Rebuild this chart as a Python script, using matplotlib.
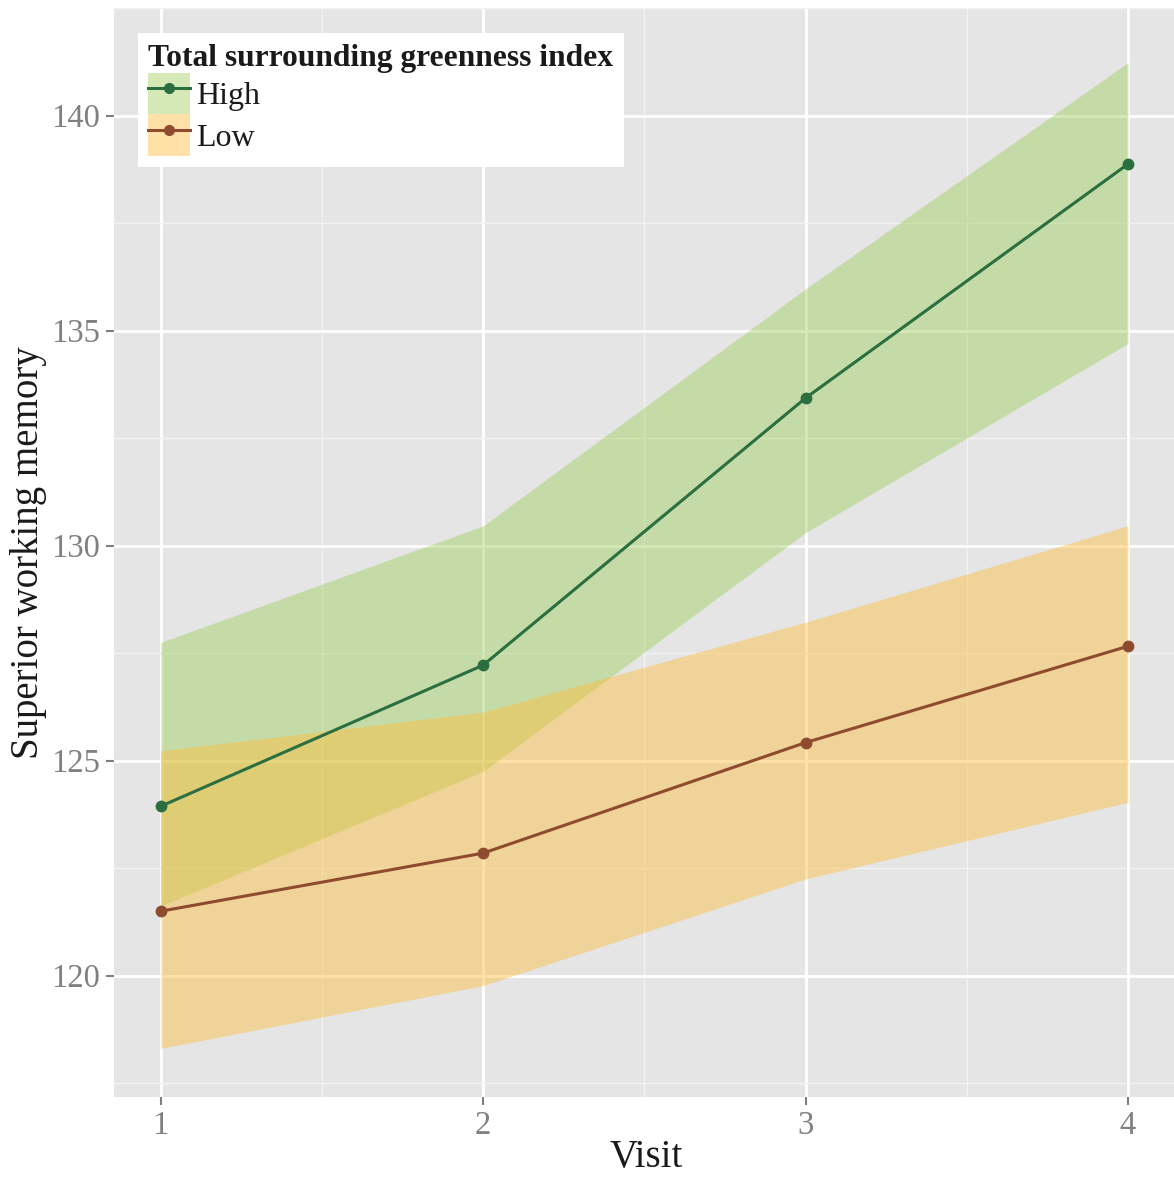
import matplotlib
matplotlib.use("Agg")
import matplotlib.pyplot as plt
from matplotlib.patches import Patch
from matplotlib.lines import Line2D
from matplotlib.legend_handler import HandlerTuple

visits = [1, 2, 3, 4]
high_mean = [123.94, 127.22, 133.43, 138.87]
high_lower = [121.62, 124.75, 130.30, 134.70]
high_upper = [127.75, 130.46, 135.97, 141.23]
low_mean = [121.50, 122.85, 125.42, 127.66]
low_lower = [118.31, 119.77, 122.25, 124.03]
low_upper = [125.23, 126.13, 128.22, 130.46]

plt.rcParams['font.family'] = ['Liberation Serif', 'DejaVu Serif']

fig = plt.figure(figsize=(11.74, 11.80), dpi=100)
ax = fig.add_axes([114/1174, 83/1180, 1 - 114/1174, 1089/1180])
ax.set_facecolor('#e5e5e5')

high_fill = '#a0cf5d'
low_fill = '#ffbe3c'
high_line = '#2b6e40'
low_line = '#8e4b2e'
alpha = 0.45

ax.fill_between(visits, high_lower, high_upper, color=high_fill, alpha=alpha, lw=0, zorder=2)
ax.fill_between(visits, low_lower, low_upper, color=low_fill, alpha=alpha, lw=0, zorder=3)
ax.plot(visits, high_mean, color=high_line, lw=2.2, marker='o', ms=7.5, zorder=4)
ax.plot(visits, low_mean, color=low_line, lw=2.2, marker='o', ms=7.5, zorder=4)

ax.set_xlim(0.855, 4.143)
ax.set_ylim(117.18, 142.38)
ax.set_xticks(visits)
ax.set_xticks([1.5, 2.5, 3.5], minor=True)
ax.set_yticks([120, 125, 130, 135, 140])
ax.set_yticks([117.5, 122.5, 127.5, 132.5, 137.5, 142.5], minor=True)
ax.grid(which='major', color='white', lw=2.0, zorder=1)
ax.grid(which='minor', color='#f2f2f2', lw=1.0, zorder=1)
ax.set_axisbelow(True)
for s in ax.spines.values():
    s.set_visible(False)
ax.tick_params(which='major', length=6, width=1.5, color='#7f7f7f', labelcolor='#808080',
               labelsize=23.5, pad=4)
ax.tick_params(which='minor', length=0)

ax.set_xlabel('Visit', fontsize=28, color='#1a1a1a')
ax.set_ylabel('Superior working memory', fontsize=28, color='#1a1a1a')
ax.xaxis.set_label_coords(0.502, -0.056)
ax.yaxis.set_label_coords(-0.081, 0.5)
ax.xaxis.label.set_va('center')
ax.yaxis.label.set_va('center')

h1 = (Patch(facecolor=high_fill, alpha=alpha, edgecolor='none'),
      Line2D([], [], color=high_line, lw=2.2, marker='o', ms=7))
h2 = (Patch(facecolor=low_fill, alpha=alpha, edgecolor='none'),
      Line2D([], [], color=low_line, lw=2.2, marker='o', ms=7))
leg = ax.legend([h1, h2], ['High', 'Low'],
                handler_map={tuple: HandlerTuple(ndivide=1, pad=0)},
                title='Total surrounding greenness index',
                title_fontproperties={'weight': 'bold', 'size': 22.7},
                fontsize=23, loc='upper left', bbox_to_anchor=(0.0226, 0.977),
                frameon=True, fancybox=False, framealpha=1, edgecolor='none',
                facecolor='white', borderpad=0.33, handlelength=1.3, handleheight=1.64,
                labelspacing=0.0, handletextpad=0.18, borderaxespad=0,
                numpoints=1, alignment='left')
leg.get_title().set_color('#1a1a1a')
for t in leg.get_texts():
    t.set_color('#1a1a1a')

fig.savefig('out.png', dpi=100)
